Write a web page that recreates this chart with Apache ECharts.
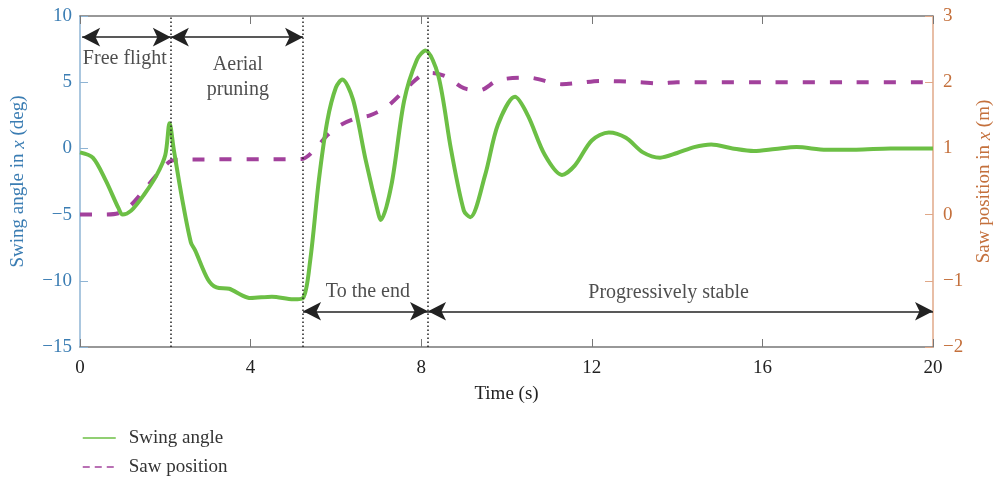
<!DOCTYPE html>
<html>
<head>
<meta charset="utf-8">
<script src="https://cdn.jsdelivr.net/npm/echarts@6/dist/echarts.min.js"></script>
<style>
  html, body { margin: 0; padding: 0; background: #fff; }
  #chart { width: 996px; height: 481px; }
</style>
</head>
<body>
<div id="chart"></div>
<script>
// swing angle (deg)
var swingTime = [0, 0.3, 0.6, 0.9, 1.0, 1.2, 1.5, 1.8, 2.0, 2.1, 2.2, 2.4, 2.6, 2.7, 3.0, 3.2, 3.5, 3.8, 4.0, 4.5, 5.0, 5.23,
  5.4, 5.6, 5.8, 6.0, 6.15, 6.4, 6.7, 7.0, 7.05, 7.3, 7.6, 7.9, 8.1, 8.4, 8.7, 9.0, 9.15, 9.5, 9.8, 10.2, 10.5, 10.9,
  11.3, 11.6, 12.0, 12.4, 12.8, 13.2, 13.6, 14.0, 14.4, 14.8, 15.3, 15.8, 16.3, 16.8, 17.5, 18.2, 19, 20];
var swingAngle = [-0.3, -0.7, -2.4, -4.5, -5.0, -4.7, -3.5, -2.0, -0.5, 1.9, -0.1, -3.9, -7.1, -7.7, -9.9, -10.5, -10.6, -11.1, -11.3, -11.2, -11.4, -11.3,
  -8.4, -2.4, 2.1, 4.6, 5.2, 3.7, -0.9, -5.0, -5.4, -2.8, 3.6, 6.7, 7.4, 5.5, -0.1, -4.7, -5.2, -2.0, 1.8, 3.9, 2.5, -0.5,
  -2.0, -1.3, 0.6, 1.2, 0.8, -0.3, -0.7, -0.35, 0.1, 0.3, 0.0, -0.2, -0.05, 0.1, -0.1, -0.1, 0, 0];

// saw position (m)
var sawTime = [0, 0.5, 0.9, 1.2, 1.5, 1.8, 2.1, 2.3, 5.2, 5.5, 5.8, 6.1, 6.5, 6.8, 7.2, 7.74, 8.0, 8.25, 8.6, 9.0, 9.38,
  9.8, 10.5, 11.3, 11.7, 12.2, 13.1, 13.6, 14, 16, 18, 20];
var sawPos = [0, 0, 0.02, 0.15, 0.37, 0.6, 0.8, 0.83, 0.84, 0.98, 1.2, 1.35, 1.46, 1.5, 1.63, 1.96, 2.1, 2.14, 2.08, 1.91, 1.88,
  2.03, 2.07, 1.97, 1.99, 2.02, 2.0, 1.98, 2.0, 2.0, 2.0, 2.0];

// phase boundaries (s) and annotation texts
var phaseLines = [2.13, 5.23, 8.16];
var topArrows = [[0.05, 2.13], [2.13, 5.23]];
var topArrowY = 8.4;
var bottomArrows = [[5.23, 8.16], [8.16, 20]];
var bottomArrowY = -12.3;
var noteTexts = ['Free flight', 'Aerial\npruning', 'To the end', 'Progressively stable'];
var noteX = [1.05, 3.7, 6.75, 13.8];
var noteY = [6.8, 5.4, -10.8, -10.9];

var serif = '"Liberation Serif", "DejaVu Serif", serif';
var blue = '#3b7db3';
var orange = '#c4703c';
var green = '#6cbf45';
var purple = '#a2419c';

function pairs(xs, ys) {
  var out = [];
  for (var i = 0; i < xs.length; i++) out.push([xs[i], ys[i]]);
  return out;
}

function minusLabel(v) {
  return v < 0 ? '\u2212' + (-v) : '' + v;
}

var arrowLines = [];
topArrows.forEach(function (a) {
  arrowLines.push([{ coord: [a[0], topArrowY] }, { coord: [a[1], topArrowY] }]);
});
bottomArrows.forEach(function (a) {
  arrowLines.push([{ coord: [a[0], bottomArrowY] }, { coord: [a[1], bottomArrowY] }]);
});

var notes = [];
for (var i = 0; i < noteTexts.length; i++) {
  notes.push({ name: noteTexts[i], value: [noteX[i], noteY[i]] });
}

var chart = echarts.init(document.getElementById('chart'));
chart.setOption({
  animation: false,
  textStyle: { fontFamily: serif },
  grid: { left: 80, right: 63, top: 16, bottom: 134, outerBoundsMode: 'none', containLabel: false },
  legend: {
    data: [
      { name: 'Swing angle', lineStyle: { color: green, width: 1.5, type: 'solid' } },
      { name: 'Saw position', lineStyle: { color: purple, width: 1.5, type: [7, 5] } }
    ],
    orient: 'vertical',
    left: 82,
    top: 428,
    padding: 0,
    itemWidth: 33,
    itemHeight: 14,
    itemGap: 9,
    itemStyle: { opacity: 0 },
    textStyle: { fontFamily: serif, fontSize: 19, lineHeight: 20, color: '#333', padding: [0, 0, 0, 8] }
  },
  xAxis: [{
    type: 'value',
    min: 0, max: 20, interval: 4,
    name: 'Time (s)',
    nameLocation: 'middle',
    nameGap: 38,
    nameTextStyle: { fontFamily: serif, fontSize: 19, color: '#222' },
    axisLine: { onZero: false, lineStyle: { color: '#777', width: 1.5 } },
    axisTick: { inside: true, length: 8, lineStyle: { color: '#777' } },
    axisLabel: { fontFamily: serif, fontSize: 19, color: '#222', margin: 12 },
    splitLine: { show: false }
  }, {
    type: 'value',
    position: 'top',
    min: 0, max: 20, interval: 4,
    axisLine: { show: true, onZero: false, lineStyle: { color: '#777', width: 1.5 } },
    axisTick: { inside: true, length: 8, lineStyle: { color: '#777' } },
    axisLabel: { show: false },
    splitLine: { show: false }
  }],
  yAxis: [{
    type: 'value',
    min: -15, max: 10, interval: 5,
    position: 'left',
    name: 'Swing angle in {it|x} (deg)',
    nameLocation: 'middle',
    nameRotate: 90,
    nameGap: 52,
    nameTextStyle: {
      fontFamily: serif, fontSize: 19, color: blue,
      rich: { it: { fontFamily: serif, fontSize: 19, color: blue, fontStyle: 'italic' } }
    },
    axisLine: { show: true, onZero: false, lineStyle: { color: '#8fb4d4', width: 1.5 } },
    axisTick: { show: true, inside: true, length: 8, lineStyle: { color: '#8fb4d4' } },
    axisLabel: { fontFamily: serif, fontSize: 19, color: blue, margin: 8, formatter: minusLabel },
    splitLine: { show: false }
  }, {
    type: 'value',
    min: -2, max: 3, interval: 1,
    position: 'right',
    name: 'Saw position in {it|x} (m)',
    nameLocation: 'middle',
    nameRotate: 90,
    nameGap: 42,
    nameTextStyle: {
      fontFamily: serif, fontSize: 19, color: orange,
      rich: { it: { fontFamily: serif, fontSize: 19, color: orange, fontStyle: 'italic' } }
    },
    axisLine: { show: true, onZero: false, lineStyle: { color: '#e0a888', width: 1.5 } },
    axisTick: { show: true, inside: true, length: 8, lineStyle: { color: '#e0a888' } },
    axisLabel: { fontFamily: serif, fontSize: 19, color: orange, margin: 10, formatter: minusLabel },
    splitLine: { show: false }
  }],
  series: [{
    name: 'Swing angle',
    type: 'line',
    yAxisIndex: 0,
    data: pairs(swingTime, swingAngle),
    smooth: 0.3,
    symbol: 'none',
    color: green,
    lineStyle: { color: green, width: 4 },
    z: 3,
    markLine: {
      silent: true,
      symbol: ['none', 'none'],
      label: { show: false },
      lineStyle: { color: '#222', width: 1.5, type: [1.5, 2.5] },
      data: phaseLines.map(function (t) { return { xAxis: t }; })
    }
  }, {
    name: 'Saw position',
    type: 'line',
    yAxisIndex: 1,
    data: pairs(sawTime, sawPos),
    smooth: 0.3,
    symbol: 'none',
    color: purple,
    lineStyle: { color: purple, width: 4, type: [12, 15] },
    z: 2
  }, {
    name: 'arrows',
    type: 'line',
    yAxisIndex: 0,
    data: [],
    markLine: {
      silent: true,
      symbol: ['arrow', 'arrow'],
      symbolSize: [14, 18],
      label: { show: false },
      lineStyle: { color: '#222', width: 1.5, type: 'solid' },
      itemStyle: { color: '#222' },
      data: arrowLines
    }
  }, {
    name: 'notes',
    type: 'scatter',
    yAxisIndex: 0,
    symbolSize: 0,
    silent: true,
    data: notes,
    label: {
      show: true,
      position: 'inside',
      formatter: '{b}',
      fontFamily: serif,
      fontSize: 20,
      lineHeight: 25,
      color: '#222'
    }
  }]
});
</script>
</body>
</html>
